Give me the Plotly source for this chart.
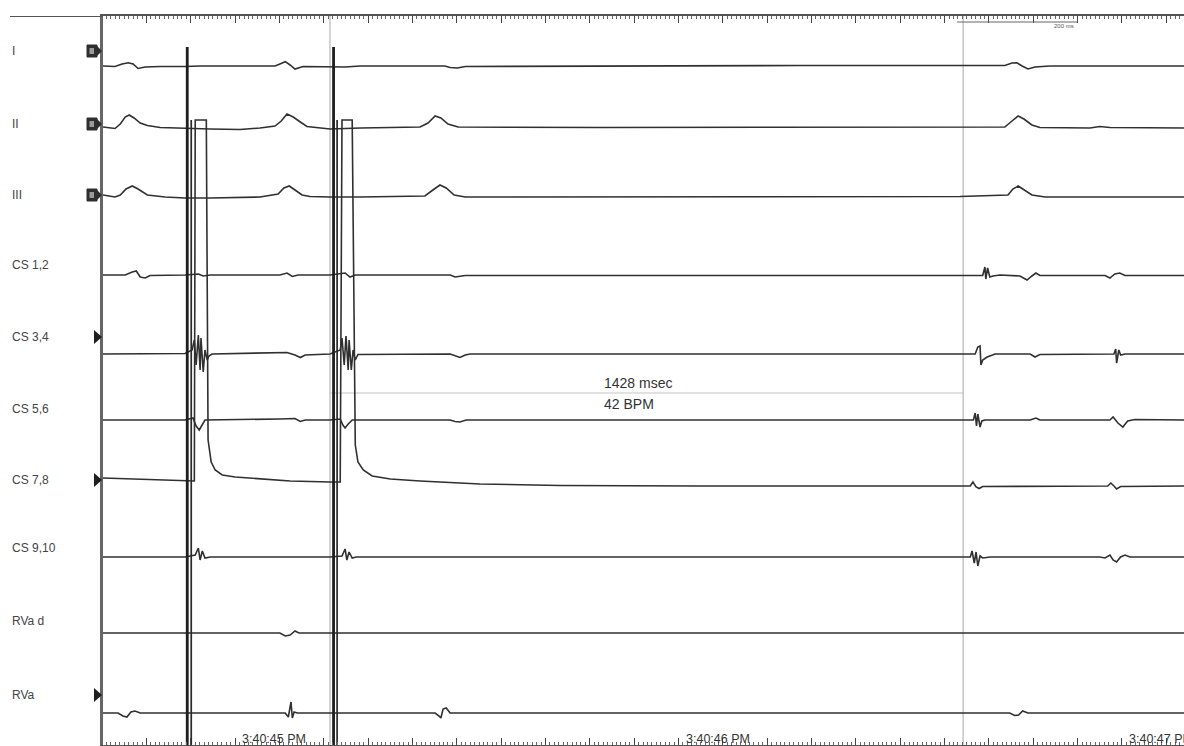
import plotly.graph_objects as go

# ---------------- DATA (time in ms relative to 3:40:45.000 PM; amplitude, + = up) -------------
channel_names = ["I", "II", "III", "CS 1,2", "CS 3,4", "CS 5,6", "CS 7,8", "CS 9,10", "RVa d", "RVa"]

I_t = [-298, -271, -255, -241, -230, -219, -203, -169, -113, -79, 11, 90, 101, 113, 124, 135, 153, 214, 248,
       282, 473, 485, 501, 519, 823, 1274, 1635, 1736, 1752, 1763, 1775, 1788, 1804, 1838, 2140]
I_v = [0, -0.5, 2, 3.3, 2, -2.5, -1, -0.5, -0.5, 0, 0, 0, 2, 4.3, 1, -3, -0.5, -0.5, -1,
       0, 0, -1.5, -2, -0.5, 0, 0.5, 0.5, 0.5, 3, 3.3, 0, -3, -1, 0, 0]

II_t = [-298, -282, -271, -259, -248, -239, -228, -214, -198, -169, -113, -56, 11, 56, 90, 104, 117, 131, 147,
        162, 214, 282, 417, 435, 451, 464, 480, 503, 823, 1635, 1736, 1752, 1766, 1779, 1797, 1815, 1928, 1950,
        1973, 2140]
II_v = [0, -1, -1.5, 3, 10, 12, 9, 4, 1.5, -0.5, -1.5, -2, -2.5, -1, 1, 6, 13, 10, 5,
        0.5, -2, -1, 0, 4, 11, 9, 3, 0, -0.5, 0, 0, 6, 11, 8, 2, -0.5, -1, 0.5,
        -0.5, -1]

III_t = [-298, -271, -259, -246, -232, -219, -198, -158, -113, -56, 56, 97, 110, 122, 135, 151, 169, 214, 282,
         428, 446, 462, 476, 494, 519, 823, 1635, 1743, 1754, 1766, 1779, 1797, 1827, 2140]
III_v = [1, -1, 1, 7, 10, 7, 1, -1, -2, -2, -1, 2, 8, 10, 6, 1, -0.5, -1, -1,
         0, 6, 11, 8, 1, -1, -1, -0.5, 1, 7, 10, 6, 1, -1, -1]

CS12_t = [-298, -248, -232, -223, -214, -203, -192, -113, -83, -72, -56, 101, 117, 129, 142, 214, 248, 259,
          271, 485, 496, 507, 519, 1635, 1686, 1691, 1693, 1697, 1702, 1709, 1725, 1770, 1786, 1797, 1806,
          1815, 1962, 1973, 1984, 1995, 2007, 2140]
CS12_v = [0, 0, 3, 4, -2, -3, -0.5, 0, 1, -1, 0, 0, 2, -1.5, 0, 0, 2, -2,
          0, 0, -2, -1.5, -0.5, -0.5, -0.5, 8, -4, 7, -2, -1, 0, -1, -5, -1, 2,
          -0.5, -0.5, -3, 1, 2, -0.5, -0.5]

CS34_t = [-298, -113, -97, -92, -88, -83, -79, -77, -72, -68, -63, -59, -52, 101, 117, 135, 147, 158, 214,
          237, 241, 246, 250, 255, 257, 262, 266, 271, 277, 485, 496, 507, 519, 530, 1635, 1669, 1675, 1680,
          1682, 1686, 1696, 1714, 1793, 1804, 1815, 1982, 1986, 1988, 1993, 1997, 2007, 2140]
CS34_v = [0, 0.5, 4, 14, -11, 19, -16, 16, -18, 4, -6, -2, 0, 1, 1.5, -1, -3.5, -1, 0,
          4, 16, -11, 18, -16, 14, -16, 4, -6, -0.5, 0, -2, -3.5, -1, 0, 0, 0, 7, 8,
          -11, -6, -3, 0, 0, -3, -0.5, 0, 5, -9, 4, -1, 0, 0]

CS56_t = [-298, -113, -95, -88, -81, -74, -68, 101, 135, 147, 158, 214, 237, 243, 248, 255, 264, 485, 496,
          507, 521, 1635, 1665, 1669, 1672, 1675, 1680, 1684, 1691, 1793, 1806, 1815, 1973, 1980, 1991, 2002,
          2013, 2029, 2140]
CS56_v = [0, 0, 2, -6, -10, -5, 0, 1, 1.5, -1.5, 0, 0, 1, -5, -8, -4, 0, 0, -1.5,
          -2, 0, 0, 0, 7, -6, 6, -7, -1, 0, 0, 2, 0, 0, 3, -3, -7,
          -1, 0.5, 0]

CS78_t = [-298, -192, -113, -92, -90, -65, -61, -54, -45, -29, 0, 56, 124, 214, 237, 241, 264, 271, 277, 289,
          309, 350, 417, 552, 733, 1048, 1635, 1658, 1664, 1671, 1678, 1686, 1968, 1975, 1982, 1988, 1997, 2140]
CS78_v = [2, 0.5, -1, -1, 360, 360, 40, 18, 10, 5, 3, 1, -1, -2, -2, 360, 360, 35, 18, 10,
          4, 1, -1, -4, -5.5, -6, -6, -6, -2, -7, -8.5, -6.5, -6, -3, -6, -9, -6.5, -6]

CS910_t = [-298, -113, -90, -83, -79, -74, -68, -56, 214, 241, 248, 252, 257, 264, 273, 1635, 1658, 1662,
           1667, 1671, 1675, 1680, 1686, 1703, 1950, 1962, 1973, 1980, 1988, 1997, 2007, 2018, 2140]
CS910_v = [0, 0, 2, 9, -3, 6, -1, 0, 0, 1, 8, -3, 5, -1, 0, 0, 0, 6,
           -6, 5, -9, 1, -1, 0, 0, -1, 2, -3, -5, 0, 2, 0, 0]

RVad_t = [-298, 101, 113, 124, 135, 144, 2140]
RVad_v = [0, 0, -3, -2, 2, 0, 0]

RVa_t = [-298, -264, -253, -244, -235, -226, -214, 113, 120, 124, 126, 129, 133, 140, 451, 460, 464, 469,
         476, 485, 1747, 1758, 1767, 1776, 1788, 2140]
RVa_v = [0, 0, -3, -4, 1, 2, 0, 0, -4, 8, 11, -5, 1, 0, 0, -3, -5, 4,
         5, 0, 0, -2.5, -2, 2, 0, 0]

pacing_main_t = [-108, 222]          # stimulus artifacts (ms)
pacing_second_t = [-99, 230]

caliper_start_ms = 214
caliper_interval_ms = 1428
caliper_bpm = 42

time_labels = ["3:40:45 PM", "3:40:46 PM", "3:40:47 PM"]
time_label_ms = [0, 1000, 2000]

# ---------------- LAYOUT / STYLE -------------
W, H = 1184, 746
L, R, T, B = 103, 0, 16, 1
baseline_px = [66, 127, 196, 275, 354, 420, 480, 557, 633, 713]
label_px = [51, 124, 195, 265, 337, 409, 480, 548, 621, 695]
X0, X1 = -298, 2140
TRACE_COLOR = "#303030"
FONT = "Liberation Sans, Arial, sans-serif"

series = [(I_t, I_v), (II_t, II_v), (III_t, III_v), (CS12_t, CS12_v), (CS34_t, CS34_v), (CS56_t, CS56_v),
          (CS78_t, CS78_v), (CS910_t, CS910_v), (RVad_t, RVad_v), (RVa_t, RVa_v)]


def px2paper(px):
    return (px - L) / (W - L - R)


fig = go.Figure()

# caliper lines (behind traces)
cal_end = caliper_start_ms + caliper_interval_ms
fig.add_trace(go.Scatter(x=[caliper_start_ms, caliper_start_ms, None, cal_end, cal_end],
                         y=[16, 745, None, 16, 745], mode="lines",
                         line=dict(color="#c9c9c9", width=1.6), hoverinfo="skip", showlegend=False))
fig.add_trace(go.Scatter(x=[caliper_start_ms, cal_end], y=[393, 393], mode="lines",
                         line=dict(color="#c4c4c4", width=1.2), hoverinfo="skip", showlegend=False))

for name, (ts, vs), base in zip(channel_names, series, baseline_px):
    fig.add_trace(go.Scatter(x=ts, y=[base - v for v in vs], mode="lines", name=name,
                             line=dict(color=TRACE_COLOR, width=1.6), hoverinfo="skip", showlegend=False))

# stimulus artifacts
xs, ys = [], []
for t in pacing_main_t:
    xs += [t, t, None]
    ys += [47, 746, None]
fig.add_trace(go.Scatter(x=xs, y=ys, mode="lines", line=dict(color="#1e1e1e", width=2.8),
                         hoverinfo="skip", showlegend=False))
xs, ys = [], []
for t in pacing_second_t:
    xs += [t, t, None]
    ys += [120, 746, None]
fig.add_trace(go.Scatter(x=xs, y=ys, mode="lines", line=dict(color="#2a2a2a", width=1.7),
                         hoverinfo="skip", showlegend=False))

annotations = []
for name, ly in zip(channel_names, label_px):
    annotations.append(dict(x=px2paper(10), xref="paper", y=ly, yref="y", text=name, showarrow=False,
                            xanchor="left", yanchor="middle", font=dict(family=FONT, size=12, color="#444444")))

annotations.append(dict(x=827, y=383, xref="x", yref="y", text=f"{caliper_interval_ms} msec", showarrow=False,
                        xanchor="left", yanchor="middle", font=dict(family=FONT, size=14, color="#333")))
annotations.append(dict(x=827, y=404, xref="x", yref="y", text=f"{caliper_bpm} BPM", showarrow=False,
                        xanchor="left", yanchor="middle", font=dict(family=FONT, size=14, color="#333")))

for lab, tm in zip(time_labels, time_label_ms):
    annotations.append(dict(x=tm + 12, y=739, xref="x", yref="y", text=lab, showarrow=False,
                            xanchor="left", yanchor="middle", font=dict(family=FONT, size=12.5, color="#333")))

annotations.append(dict(x=px2paper(1052), xref="paper", y=26, yref="y", text="200 ms", showarrow=False,
                        xanchor="left", yanchor="middle", font=dict(family=FONT, size=6, color="#555")))

shapes = []
# top ruler extension to the left
shapes.append(dict(type="line", xref="paper", yref="y", x0=px2paper(10), x1=0, y0=16, y1=16,
                   line=dict(color="#555", width=2)))
# scale bar
shapes.append(dict(type="line", xref="paper", yref="y", x0=px2paper(957), x1=px2paper(1078), y0=22, y1=22,
                   line=dict(color="#666", width=1)))

# boxed icons for I, II, III
for ly in label_px[:3]:
    shapes.append(dict(type="rect", xref="paper", yref="y", x0=px2paper(87), x1=px2paper(97), y0=ly - 6,
                       y1=ly + 6, fillcolor="#2e2e2e", line=dict(color="#2e2e2e", width=1)))
    shapes.append(dict(type="rect", xref="paper", yref="y", x0=px2paper(89.5), x1=px2paper(94), y0=ly - 3,
                       y1=ly + 3, fillcolor="#9a9a9a", line=dict(width=0)))
    x0, x1 = px2paper(97), px2paper(102)
    shapes.append(dict(type="path", xref="paper", yref="y",
                       path=f"M {x0} {ly - 5} L {x1} {ly} L {x0} {ly + 5} Z",
                       fillcolor="#2e2e2e", line=dict(width=0)))

# triangles for pacing channels
for idx in (4, 6, 9):
    ly = label_px[idx]
    x0, x1 = px2paper(94), px2paper(102)
    shapes.append(dict(type="path", xref="paper", yref="y",
                       path=f"M {x0} {ly - 7} L {x1} {ly} L {x0} {ly + 7} Z",
                       fillcolor="#1e1e1e", line=dict(width=0)))

fig.update_layout(
    width=W, height=H, margin=dict(l=L, r=R, t=T, b=B),
    paper_bgcolor="white", plot_bgcolor="white",
    annotations=annotations, shapes=shapes, hovermode=False,
    xaxis=dict(range=[X0, X1], showgrid=False, zeroline=False, showticklabels=False,
               showline=True, linecolor="#555", linewidth=2, mirror="allticks",
               ticks="inside", tick0=0, dtick=100, ticklen=7, tickcolor="#444", tickwidth=1,
               minor=dict(ticks="inside", dtick=10, ticklen=3, tickcolor="#666", tickwidth=1, showgrid=False)),
    yaxis=dict(range=[745, 16], showgrid=False, zeroline=False, showticklabels=False,
               showline=True, linecolor="#666", linewidth=2.5, ticks=""),
)

fig.write_html("out.html", config={"displayModeBar": False},
               post_script="document.body.style.margin='0';document.body.style.overflow='hidden';")
